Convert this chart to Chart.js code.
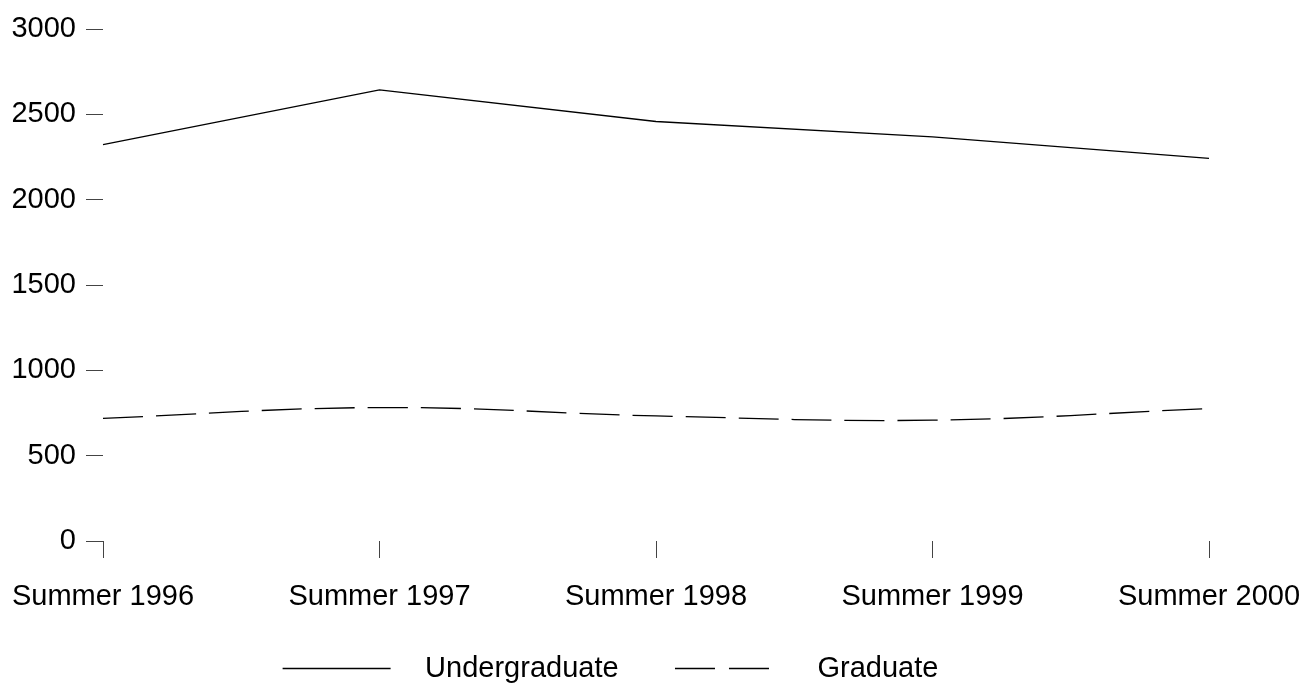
<!DOCTYPE html>
<html>
<head>
<meta charset="utf-8">
<script src="https://cdn.jsdelivr.net/npm/chart.js@4/dist/chart.umd.min.js"></script>
<style>
  html, body { margin: 0; padding: 0; background: #fff; }
  #wrap { width: 1312px; height: 688px; }
</style>
</head>
<body>
<div id="wrap"><canvas id="enrollChart"></canvas></div>
<script>
// --- Data ---
const terms = ["Summer 1996", "Summer 1997", "Summer 1998", "Summer 1999", "Summer 2000"];
const undergraduate = [2322, 2643, 2458, 2368, 2242];
const graduate = [719, 782, 733, 708, 776];
const yTicks = [0, 500, 1000, 1500, 2000, 2500, 3000];

const FONT = { family: "'Liberation Sans', Arial, sans-serif", size: 29 };

// --- Chart.js setup ---
const ctx = document.getElementById("enrollChart").getContext("2d");

new Chart(ctx, {
  type: "line",
  data: {
    labels: terms,
    datasets: [
      {
        label: "Undergraduate",
        data: undergraduate,
        borderColor: "#000",
        borderWidth: 1.3,
        pointRadius: 0,
        fill: false,
        tension: 0
      },
      {
        label: "Graduate",
        data: graduate,
        borderColor: "#000",
        borderWidth: 1.3,
        borderDash: [40, 13],
        pointRadius: 0,
        fill: false,
        tension: 0.4
      }
    ]
  },
  options: {
    responsive: true,
    maintainAspectRatio: false,
    animation: false,
    layout: { padding: { left: 12, right: 103, top: 29, bottom: -5 } },
    plugins: {
      tooltip: { enabled: false },
      legend: {
        position: "bottom",
        labels: {
          color: "#000",
          font: FONT,
          boxWidth: 128,
          boxHeight: 0,
          padding: 0,
          generateLabels: (chart) => [
            // trailing spaces keep the gap between the two legend entries
            { text: "Undergraduate       ", fillStyle: "rgba(0,0,0,0)", strokeStyle: "#000",
              lineWidth: 1.3, lineDash: [108, 1000], datasetIndex: 0 },
            { text: "Graduate", fillStyle: "rgba(0,0,0,0)", strokeStyle: "#000",
              lineWidth: 1.3, lineDash: [40, 14, 40, 1000], datasetIndex: 1 }
          ]
        }
      }
    },
    scales: {
      x: {
        offset: false,
        border: { display: false },
        grid: { drawOnChartArea: false, tickLength: 17, color: "#444" },
        ticks: { color: "#000", font: FONT, padding: 22, maxRotation: 0, autoSkip: false },
        afterFit: (scale) => {
          scale.height = 113;
          scale.paddingLeft = 0;
          scale.paddingRight = 0;
        }
      },
      y: {
        min: 0,
        max: 3000,
        border: { display: false },
        grid: { drawOnChartArea: false, tickLength: 17, color: "#444" },
        ticks: { color: "#000", font: FONT, padding: 10, callback: (v) => String(v) },
        afterBuildTicks: (scale) => { scale.ticks = yTicks.map(v => ({ value: v })); },
        afterFit: (scale) => { scale.width = 91; }
      }
    }
  }
});
</script>
</body>
</html>
